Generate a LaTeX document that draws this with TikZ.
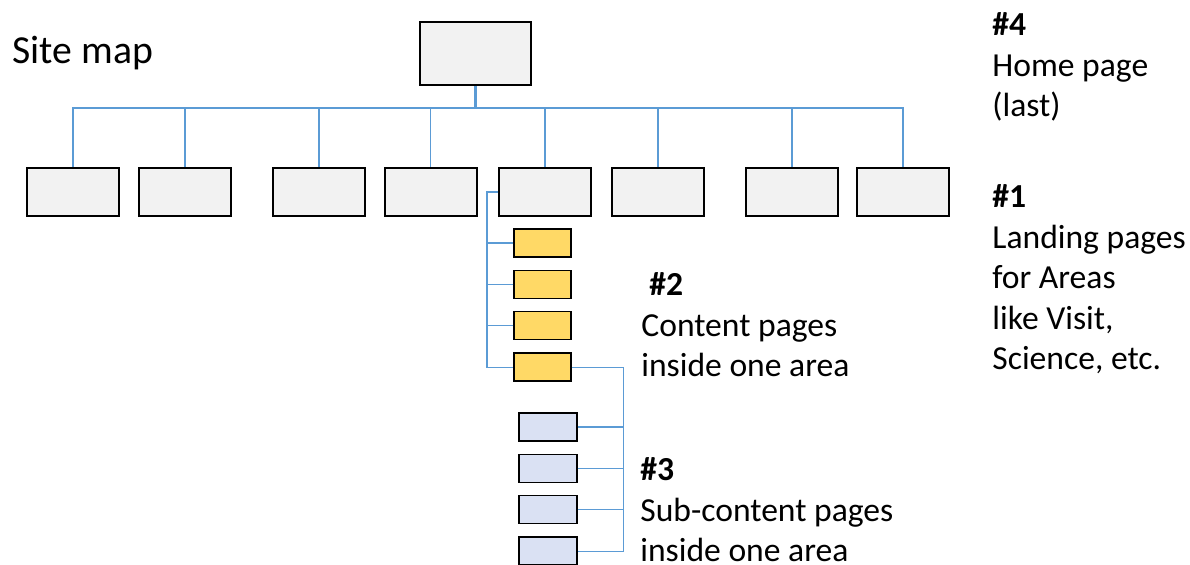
\documentclass[tikz,border=0pt]{standalone}
\usepackage{fontspec}
\setmainfont{Carlito}
\usepackage{tikz}
\usetikzlibrary{positioning}

\definecolor{pagegray}{HTML}{F2F2F2}
\definecolor{areayellow}{HTML}{FFD966}
\definecolor{subblue}{HTML}{DAE1F3}
\definecolor{linkblue}{HTML}{5B9BD5}

\begin{document}
\begin{tikzpicture}[
          x=0.5pt, y=-0.5pt,
          box/.style = {draw, line width=1pt, fill=pagegray, minimum width=46pt, minimum height=24pt, inner sep=0pt},
          smallbox/.style = {draw, line width=0.7pt, minimum width=28.5pt, minimum height=14pt, inner sep=0pt},
          note/.style = {font=\fontsize{16.8}{20.25}\selectfont, align=left, inner sep=0pt, anchor=base west},
          link/.style = {draw=linkblue, line width=0.65pt}
         ]
        \useasboundingbox (0,0) rectangle (1190,565);

        % Titel
        \node[font=\fontsize{19.85}{24}\selectfont, inner sep=0pt, anchor=base west] (title) at (12,64) {Site map};

        % Startseite
        \node[box, minimum width=55.5pt, minimum height=31.5pt] (home) at (475.5,53.5) {};

        % Bereiche (Landing pages)
        \node[box] (area1) at (73,192) {};
        \node[box] (area2) at (185,192) {};
        \node[box] (area3) at (319,192) {};
        \node[box] (area4) at (430.5,192) {};
        \node[box] (area5) at (545,192) {};
        \node[box] (area6) at (658,192) {};
        \node[box] (area7) at (792,192) {};
        \node[box] (area8) at (903,192) {};

        % Inhaltsseiten
        \node[smallbox, fill=areayellow] (content1) at (542.5,243) {};
        \node[smallbox, fill=areayellow, below=6pt of content1] (content2) {};
        \node[smallbox, fill=areayellow, below=6pt of content2] (content3) {};
        \node[smallbox, fill=areayellow, below=6pt of content3] (content4) {};

        % Unterseiten
        \node[smallbox, fill=subblue, minimum width=29pt] (sub1) at (548,427) {};
        \node[smallbox, fill=subblue, minimum width=29pt, below=6pt of sub1] (sub2) {};
        \node[smallbox, fill=subblue, minimum width=29pt, below=6pt of sub2] (sub3) {};
        \node[smallbox, fill=subblue, minimum width=29pt, below=6pt of sub3] (sub4) {};

        % Verbindungen
        \coordinate (hbus) at (476,108);
        \coordinate (cspine) at ([xshift=-5.5pt]area5.west);
        \coordinate (sspine) at ([xshift=26pt]content4.east);
        \draw[link, line width=1.5pt] (home.south) -- (home.south |- hbus);
        \draw[link] (area1.north) -- (area1.north |- hbus) -- (area8.north |- hbus) -- (area8.north);
        \draw[link] (area2.north) -- (area2.north |- hbus);
        \draw[link] (area3.north) -- (area3.north |- hbus);
        \draw[link] (area4.north) -- (area4.north |- hbus);
        \draw[link] (area5.north) -- (area5.north |- hbus);
        \draw[link] (area6.north) -- (area6.north |- hbus);
        \draw[link] (area7.north) -- (area7.north |- hbus);

        \draw[link] (area5.west) -- (cspine) |- (content4.west);
        \draw[link] (content1.west) -- (content1.west -| cspine);
        \draw[link] (content2.west) -- (content2.west -| cspine);
        \draw[link] (content3.west) -- (content3.west -| cspine);

        \draw[link] (content4.east) -- (sspine) |- (sub4.east);
        \draw[link] (sub1.east) -- (sub1.east -| sspine);
        \draw[link] (sub2.east) -- (sub2.east -| sspine);
        \draw[link] (sub3.east) -- (sub3.east -| sspine);

        % Beschriftungen
        \node[note] (homenote) at (992,117) {\textbf{\#4}\\Home page\\(last)};
        \node[note] (areanote) at (992,370) {\textbf{\#1}\\Landing pages\\for Areas\\like Visit,\\Science, etc.};
        \node[note] (contentnote) at (641,377) {\hspace*{4pt}\textbf{\#2}\\Content pages\\inside one area};
        \node[note] (subnote) at (640,562) {\textbf{\#3}\\Sub-content pages\\inside one area};

        \end{tikzpicture}
\end{document}
